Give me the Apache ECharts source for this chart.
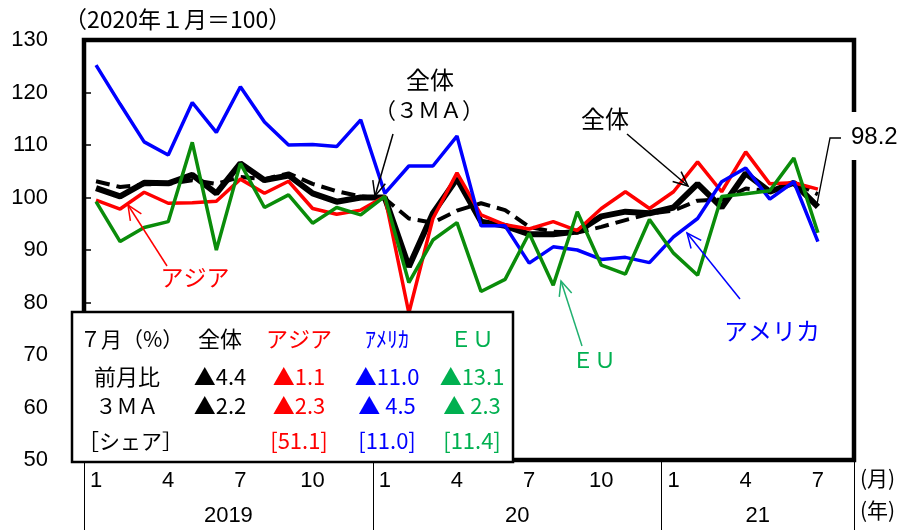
<!DOCTYPE html>
<html>
<head>
<meta charset="utf-8">
<script src="https://cdn.jsdelivr.net/npm/echarts@6/dist/echarts.min.js"></script>
<style>
  html, body { margin: 0; padding: 0; background: #fff; }
  #chart { width: 908px; height: 530px; }
</style>
</head>
<body>
<div id="chart"></div>
<script>
// 2019/1 - 2021/7, the last slot is left empty (as in the reference)
var months = ['1','2','3','4','5','6','7','8','9','10','11','12',
              '1','2','3','4','5','6','7','8','9','10','11','12',
              '1','2','3','4','5','6','7',''];
var monthTicks = ['1','4','7','10'];
var yearTickPos = [0, 12, 24, 32];
var yearLabelPos = [6, 18, 28];
var yearLabels = ['2019', '20', '21'];

var total = [101.8, 100.2, 102.8, 102.7, 104.3, 100.8, 106.5, 103.3, 104.2, 100.8, 99.2, 100.0,
             100.0, 86.8, 97.0, 103.6, 95.4, 94.6, 93.0, 93.0, 93.5, 96.4, 97.3, 97.0,
             98.1, 102.6, 98.1, 104.6, 101.1, 102.8, 98.2];
var total3ma = [103.1, 102.0, 102.5, 102.6, 103.3, 102.6, 103.9, 103.5, 104.6, 102.6, 101.2, 100.2,
                99.8, 96.0, 95.2, 97.5, 98.9, 97.6, 94.4, 93.5, 93.3, 94.4, 95.7, 96.9,
                97.5, 99.4, 99.6, 101.7, 101.2, 102.9, 100.6];
var asia = [99.5, 97.8, 101.0, 98.9, 99.0, 99.3, 103.5, 100.8, 103.1, 97.9, 96.8, 97.6,
            100.2, 78.0, 96.0, 104.7, 96.7, 94.8, 94.0, 95.4, 93.7, 97.9, 101.1, 97.9,
            101.1, 106.8, 101.1, 108.7, 102.6, 102.8, 101.6];
var america = [125.2, 117.8, 110.6, 108.1, 118.1, 112.4, 121.1, 114.4, 110.0, 110.1, 109.7, 114.8,
               100.8, 106.0, 106.0, 111.7, 94.6, 94.6, 87.5, 90.6, 90.0, 88.2, 88.6, 87.6,
               92.5, 96.0, 103.0, 105.6, 99.7, 103.0, 91.6];
var eu = [99.2, 91.6, 94.3, 95.4, 110.5, 90.0, 106.5, 98.1, 100.5, 95.1, 98.1, 96.7,
          100.2, 83.8, 91.9, 95.2, 82.1, 84.4, 93.2, 83.3, 97.3, 87.1, 85.4, 95.8,
          89.4, 85.2, 100.2, 100.7, 101.3, 107.5, 93.3];

// table in the lower-left box
var tableCols = ['全体', 'アジア', 'ｱﾒﾘｶ', 'ＥＵ'];
var tableMoM = ['▲4.4', '▲1.1', '▲11.0', '▲13.1'];
var table3ma = ['▲2.2', '▲2.3', '▲ 4.5', '▲ 2.3'];
var tableShare = ['', '[51.1]', '[11.0]', '[11.4]'];

var RED = '#ff0000', BLUE = '#0000ff', GREEN = '#0a8c0a', TGREEN = '#00b050';
var JP = '"Noto Sans CJK JP", sans-serif';
var NUM = '"Liberation Sans", Arial, sans-serif';

function txt(s, x, y, size, color, align, family) {
  return {
    type: 'text', z: 60,
    style: {
      text: s, x: x, y: y, fill: color || '#000',
      font: size + 'px ' + (family || JP),
      textAlign: align || 'left', textVerticalAlign: 'middle'
    }
  };
}

function arrow(x1, y1, x2, y2, color, w) {
  var a = Math.atan2(y2 - y1, x2 - x1), L = 16, s = 0.42;
  return [{
    type: 'line', z: 60,
    shape: { x1: x1, y1: y1, x2: x2, y2: y2 },
    style: { stroke: color, lineWidth: w || 1.5 }
  }, {
    type: 'polyline', z: 60,
    shape: { points: [
      [x2 - L * Math.cos(a - s), y2 - L * Math.sin(a - s)],
      [x2, y2],
      [x2 - L * Math.cos(a + s), y2 - L * Math.sin(a + s)]
    ] },
    style: { stroke: color, lineWidth: w || 1.5, fill: 'none' }
  }];
}

var colX = [220, 299, 387, 472];
var colColor = ['#000', RED, BLUE, TGREEN];
var graphics = [
  // box behind 98.2 that breaks the frame
  { type: 'rect', z: 50, shape: { x: 844, y: 112, width: 64, height: 48 }, style: { fill: '#fff' } },
  txt('98.2', 851, 137, 24, '#000', 'left', NUM),
  { type: 'polyline', z: 60, shape: { points: [[841, 138], [830, 138], [817, 204]] },
    style: { stroke: '#000', lineWidth: 1.3, fill: 'none' } },

  txt('（2020年１月＝100）', 64, 19, 23, '#000'),
  txt('(月)', 860, 478, 21, '#000'),
  txt('(年)', 860, 510, 21, '#000'),

  txt('全体', 430, 80, 24, '#000', 'center'),
  txt('（３ＭＡ）', 429, 110, 22, '#000', 'center'),
  txt('全体', 605, 119, 24, '#000', 'center'),
  txt('アジア', 195, 277, 23, RED, 'center'),
  txt('ＥＵ', 594, 360, 22, TGREEN, 'center'),
  txt('アメリカ', 772, 331, 24, BLUE, 'center'),

  // table box
  { type: 'rect', z: 50, shape: { x: 72, y: 312, width: 441, height: 150 },
    style: { fill: '#fff', stroke: '#000', lineWidth: 2.5 } },
  txt('７月（%）', 80, 339, 21, '#000'),
  txt('前月比', 127, 377, 22, '#000', 'center'),
  txt('３ＭＡ', 127, 406, 21, '#000', 'center'),
  txt('［シェア］', 78, 441, 21, '#000')
];
graphics = graphics
  .concat(arrow(393, 134, 375, 196, '#000', 1.5))
  .concat(arrow(627, 134, 688, 186, '#000', 1.5))
  .concat(arrow(167, 266, 128, 205, RED, 1.5))
  .concat(arrow(582, 346, 561, 281, '#20b070', 1.5))
  .concat(arrow(740, 299, 687, 233, BLUE, 1.5));
for (var c = 0; c < 4; c++) {
  graphics.push(txt(tableCols[c], colX[c], 339, 22, colColor[c], 'center'));
  graphics.push(txt(tableMoM[c], colX[c], 377, 22, colColor[c], 'center'));
  graphics.push(txt(table3ma[c], colX[c], 406, 22, colColor[c], 'center'));
  if (tableShare[c]) graphics.push(txt(tableShare[c], colX[c], 441, 22, colColor[c], 'center'));
}

var chart = echarts.init(document.getElementById('chart'));
var option = {
  animation: false,
  grid: {
    left: 84, right: 54, top: 40, bottom: 70,
    show: true, borderColor: '#000', borderWidth: 4.5
  },
  xAxis: [{
    type: 'category',
    data: months,
    axisLine: { show: false },
    axisTick: { show: false },
    axisLabel: {
      interval: 0, margin: 10, color: '#000', fontSize: 22, fontFamily: NUM,
      formatter: function (v) { return monthTicks.indexOf(v) >= 0 ? v : ''; }
    }
  }, {
    type: 'value', min: 0, max: 32, position: 'bottom',
    axisLine: { show: false },
    splitLine: { show: false },
    axisTick: { show: true, customValues: yearTickPos, length: 70,
      lineStyle: { color: '#000', width: 1 } },
    axisLabel: {
      customValues: yearLabelPos, margin: 45, color: '#000', fontSize: 22, fontFamily: NUM,
      formatter: function (v) { return yearLabels[yearLabelPos.indexOf(v)]; }
    }
  }],
  yAxis: {
    type: 'value', min: 50, max: 130, interval: 10,
    axisLine: { show: false },
    splitLine: { show: false },
    axisTick: { show: true, inside: true, length: 7, lineStyle: { color: '#000', width: 1.5 } },
    axisLabel: { color: '#000', fontSize: 22, fontFamily: NUM, margin: 36 }
  },
  series: [
    { name: '全体(3MA)', type: 'line', data: total3ma, symbol: 'none',
      lineStyle: { color: '#000', width: 4, type: [14, 7] } },
    { name: '全体', type: 'line', data: total, symbol: 'none',
      lineStyle: { color: '#000', width: 6 } },
    { name: 'アジア', type: 'line', data: asia, symbol: 'none',
      lineStyle: { color: RED, width: 3.5 } },
    { name: 'アメリカ', type: 'line', data: america, symbol: 'none',
      lineStyle: { color: BLUE, width: 3.5 } },
    { name: 'EU', type: 'line', data: eu, symbol: 'none',
      lineStyle: { color: GREEN, width: 3.5 } }
  ],
  graphic: graphics
};
chart.setOption(option);
</script>
</body>
</html>
